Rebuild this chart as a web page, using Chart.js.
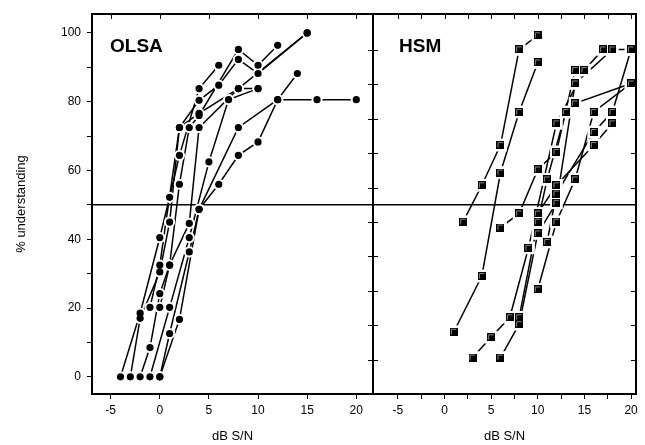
<!DOCTYPE html>
<html>
<head>
<meta charset="utf-8">
<script src="https://cdn.jsdelivr.net/npm/chart.js@4.4.1/dist/chart.umd.min.js"></script>
<style>
  html, body { margin: 0; padding: 0; background: #fff; }
  #wrap { position: relative; width: 645px; height: 445px; }
  canvas { position: absolute; top: 0; }
</style>
</head>
<body>
<div id="wrap">
  <canvas id="olsaChart" width="380" height="445" style="left:0px"></canvas>
  <canvas id="hsmChart" width="285" height="445" style="left:360px"></canvas>
</div>
<script>
// OLSA: one row per listener, SNR (dB) and % understanding
const olsaSnr = [
  [-4, -2, 0, 1, 2, 4, 6],
  [-3, -2, 0, 1, 2, 4, 6, 8, 10, 15],
  [-2, -1, 0, 1, 2, 3, 4, 8, 10, 12],
  [-1, 0, 2, 4, 8, 15],
  [0, 1, 3, 4, 8, 10],
  [-1, 1, 3, 5, 7, 10],
  [0, 1, 3, 4, 6, 8, 10, 12, 16, 20],
  [0, 2, 4, 8, 12, 14],
];
const olsaPct = [
  [0, 18.5, 40.5, 52.2, 64.4, 83.8, 90.6],
  [0, 17, 30.5, 45, 72.5, 80.4, 84.8, 92.3, 88.2, 100],
  [0, 8.5, 24.2, 32.5, 56, 72.5, 76, 95.2, 90.6, 96.4],
  [20.2, 32.5, 72.5, 76.6, 83.8, 100],
  [20.2, 32.5, 44.6, 72.5, 83.8, 83.8],
  [0, 20.2, 40.5, 62.5, 80.6, 83.8],
  [0, 12.6, 36.3, 48.7, 56, 64.4, 68.3, 80.6, 80.6, 80.6],
  [0, 16.7, 48.7, 72.5, 80.6, 88.2],
];

// HSM
const hsmSnr = [
  [2, 4, 6, 8, 10],
  [1, 4, 6, 8, 10],
  [3, 5, 7, 9, 12, 15, 17],
  [6, 8, 10, 12, 14, 18, 20],
  [8, 10, 11, 13, 14, 20],
  [6, 8, 10, 12, 14],
  [10, 12, 14, 16, 20],
  [11, 12, 16, 18, 20],
  [10, 12, 16, 18],
];
const hsmPct = [
  [45.1, 55.7, 67.4, 95.2, 99.3],
  [13.1, 29.3, 59.4, 77, 91.4],
  [5.6, 11.5, 17.3, 37.5, 73.7, 89.2, 95.2],
  [5.6, 15.3, 41.7, 50.6, 85.3, 95.2, 95.2],
  [17.3, 45.1, 57.4, 77, 79.5, 85.3],
  [43.4, 47.5, 60.3, 65.4, 89.2],
  [25.4, 45.1, 57.4, 77, 85.3],
  [39.2, 53.3, 71.2, 77, 95.2],
  [47.5, 55.7, 67.4, 73.7],
];

const olsaXTicks = [-5, 0, 5, 10, 15, 20];
const hsmXTicks = [-5, -2.5, 0, 2.5, 5, 7.5, 10, 12.5, 15, 17.5, 20];
const yTicks = [0, 10, 20, 30, 40, 50, 60, 70, 80, 90, 100];
const innerYTicks = [5, 15, 25, 35, 45, 55, 65, 75, 85, 95];
const REF_LEVEL = 50;

const FONT = '"Liberation Sans", Arial, sans-serif';
const TICK = 5;

// black square marker with a light rim, like the original symbols
function squareMarker() {
  const c = document.createElement("canvas");
  c.width = 8;
  c.height = 8;
  const g = c.getContext("2d");
  g.fillStyle = "#000";
  g.fillRect(0, 0, 8, 8);
  g.strokeStyle = "#8c8c8c";
  g.lineWidth = 1;
  g.beginPath();
  g.moveTo(1.5, 6.5);
  g.lineTo(1.5, 1.5);
  g.lineTo(6.5, 1.5);
  g.stroke();
  return c;
}

// line + white halo (gap) + marker, drawn in that order
function buildDatasets(xs, ys, marker, halo) {
  const sets = [];
  xs.forEach((xRow, i) => {
    const pts = xRow.map((x, j) => ({ x: x, y: ys[i][j] }));
    sets.push({ data: pts, showLine: true, borderColor: "#000", borderWidth: 1.5, pointRadius: 0, order: 3 });
    sets.push({ data: pts, showLine: false, pointStyle: halo.style, pointRadius: halo.r,
      pointBackgroundColor: "#fff", pointBorderWidth: 0, order: 2 });
    sets.push({ data: pts, showLine: false, pointStyle: marker.style, pointRadius: marker.r,
      pointBackgroundColor: "#000", pointBorderWidth: 0, order: 1 });
  });
  return sets;
}

function line(ctx, x1, y1, x2, y2) {
  ctx.beginPath();
  ctx.moveTo(x1, y1);
  ctx.lineTo(x2, y2);
  ctx.stroke();
}

const panelDecor = {
  id: "panelDecor",
  beforeDatasetsDraw(chart) {
    const { ctx, chartArea: a, scales: { y } } = chart;
    const py = y.getPixelForValue(REF_LEVEL);
    ctx.save();
    ctx.strokeStyle = "#000";
    ctx.lineWidth = 1.5;
    line(ctx, a.left, py, a.right, py);
    ctx.restore();
  },
  afterDatasetsDraw(chart, args, opts) {
    const { ctx, chartArea: a, scales: { x, y } } = chart;
    ctx.save();
    ctx.strokeStyle = "#000";
    ctx.lineWidth = 1;
    opts.topTicks.forEach((v) => {
      const px = Math.round(x.getPixelForValue(v)) + 0.5;
      line(ctx, px, a.top, px, a.top + TICK);
    });
    (opts.leftTicks || []).forEach((v) => {
      const py = Math.round(y.getPixelForValue(v)) + 0.5;
      line(ctx, a.left, py, a.left + TICK, py);
    });
    (opts.rightTicks || []).forEach((v) => {
      const py = Math.round(y.getPixelForValue(v)) + 0.5;
      line(ctx, a.right, py, a.right - TICK, py);
    });
    ctx.lineWidth = 2;
    ctx.strokeRect(a.left, a.top, a.right - a.left, a.bottom - a.top);

    ctx.fillStyle = "#000";
    ctx.font = "bold 19px " + FONT;
    ctx.textBaseline = "alphabetic";
    ctx.fillText(opts.label, a.left + opts.labelDx, a.top + 38);
    ctx.restore();
  },
};

function xScale(min, max, ticks, tickFont) {
  return {
    type: "linear",
    min: min,
    max: max,
    afterBuildTicks: (s) => { s.ticks = ticks.map((v) => ({ value: v })); },
    afterFit: (s) => { s.height = 51; },
    grid: { drawOnChartArea: false, tickLength: TICK, color: "#000", tickColor: "#000" },
    border: { display: false },
    ticks: {
      color: "#000",
      font: tickFont,
      padding: 4,
      maxRotation: 0,
      autoSkip: false,
      callback: (v) => (v % 5 === 0 ? String(v) : ""),
    },
    title: { display: true, text: "dB S/N", color: "#000", font: { family: FONT, size: 13 }, padding: { top: 0, bottom: 1 } },
  };
}

const tickFont = { family: FONT, size: 12 };

new Chart(document.getElementById("olsaChart"), {
  type: "scatter",
  data: { datasets: buildDatasets(olsaSnr, olsaPct, { style: "circle", r: 3.6 }, { style: "circle", r: 5.6 }) },
  plugins: [panelDecor],
  options: {
    responsive: false,
    animation: false,
    events: [],
    layout: { padding: { left: 0, right: 7, top: 14, bottom: 0 } },
    plugins: {
      legend: { display: false },
      tooltip: { enabled: false },
      panelDecor: { topTicks: olsaXTicks, rightTicks: innerYTicks, label: "OLSA", labelDx: 18 },
    },
    scales: {
      x: xScale(-6.9, 21.7, olsaXTicks, tickFont),
      y: {
        type: "linear",
        min: -5,
        max: 105.5,
        afterBuildTicks: (s) => { s.ticks = yTicks.map((v) => ({ value: v })); },
        afterFit: (s) => { s.width = 92; },
        grid: { drawOnChartArea: false, tickLength: TICK, color: "#000", tickColor: "#000" },
        border: { display: false },
        ticks: { color: "#000", font: tickFont, padding: 6, callback: (v) => (v % 20 === 0 ? String(v) : "") },
        title: { display: true, text: "% understanding", color: "#000", font: { family: FONT, size: 13 }, padding: { top: 14, bottom: 0 } },
      },
    },
  },
});

new Chart(document.getElementById("hsmChart"), {
  type: "scatter",
  data: { datasets: buildDatasets(hsmSnr, hsmPct, { style: squareMarker(), r: 4 }, { style: "rect", r: 9 }) },
  plugins: [panelDecor],
  options: {
    responsive: false,
    animation: false,
    events: [],
    layout: { padding: { left: 13, right: 5, top: 14, bottom: 0 } },
    plugins: {
      legend: { display: false },
      tooltip: { enabled: false },
      panelDecor: { topTicks: hsmXTicks, leftTicks: innerYTicks, rightTicks: innerYTicks, label: "HSM", labelDx: 26 },
    },
    scales: {
      x: xScale(-7.67, 20.53, hsmXTicks, tickFont),
      y: { type: "linear", min: -5, max: 105.5, display: false },
    },
  },
});
</script>
</body>
</html>
